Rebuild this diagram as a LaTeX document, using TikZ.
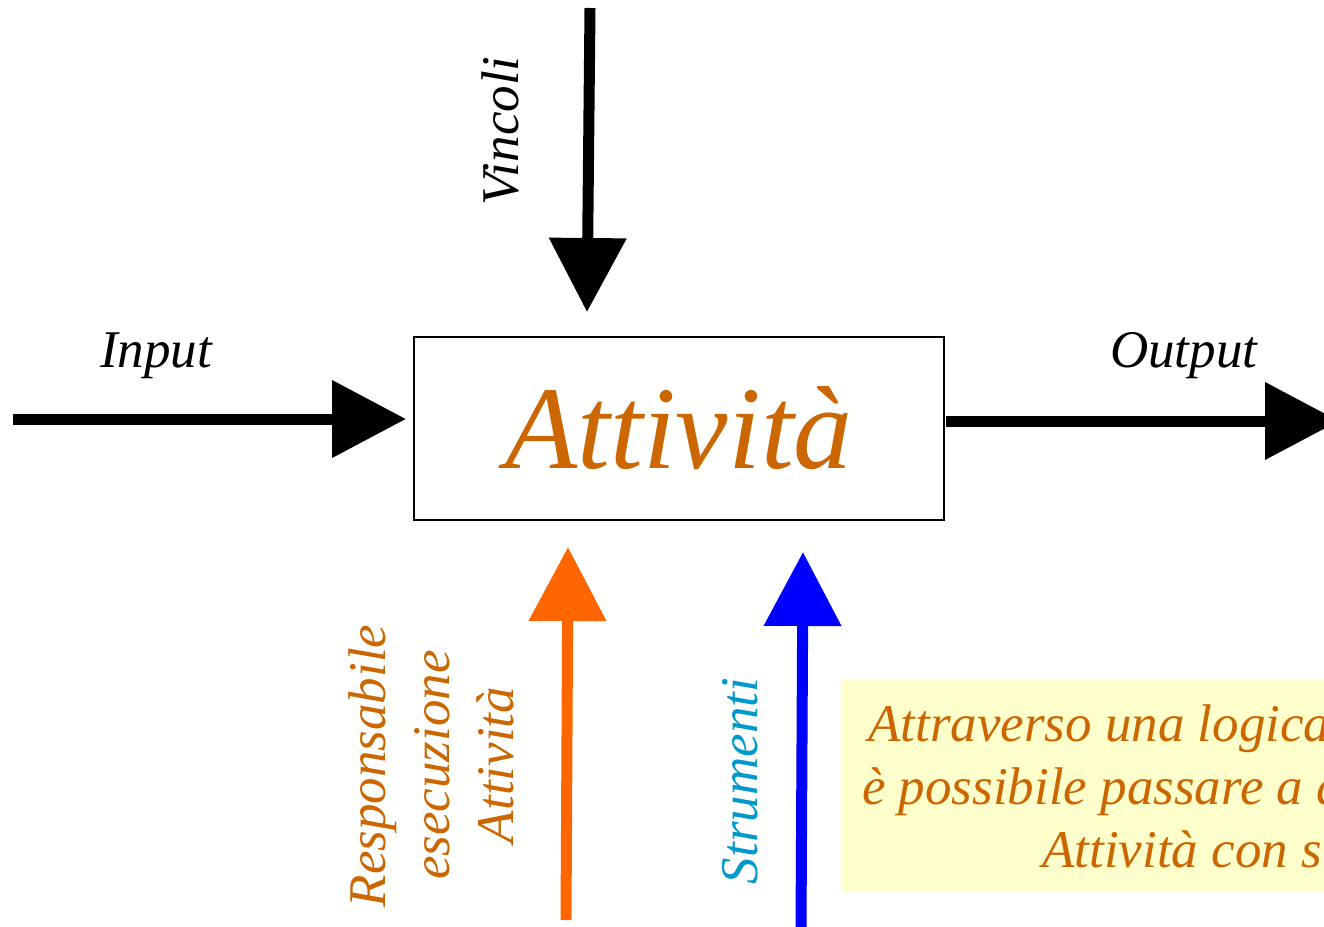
\documentclass[tikz,border=0pt]{standalone}
\usepackage{fontspec}
\setmainfont{Liberation Serif}
\usetikzlibrary{arrows.meta}
\definecolor{txtorange}{RGB}{204,102,0}
\definecolor{arrorange}{RGB}{255,102,0}
\definecolor{arrblue}{RGB}{0,0,255}
\definecolor{txtcyan}{RGB}{0,153,204}
\definecolor{notefill}{RGB}{255,255,204}
\tikzset{
  bigarrow/.style={line width=11pt, -{Triangle[length=74pt,width=75pt]}},
  lbl/.style={inner sep=0pt, font=\fontsize{53}{64}\selectfont\itshape},
  vlbl/.style={lbl, rotate=90, anchor=base},
  notetxt/.style={lbl, anchor=base west, text=txtorange},
}
\begin{document}
\begin{tikzpicture}[x=1pt,y=-1pt]
\useasboundingbox (0,0) rectangle (1324,926);
\clip (0,0) rectangle (1324,926);
% note background
\fill[notefill] (841,679) rectangle (1330,891);
% activity box
\node[draw=black, line width=1.6pt, minimum width=530pt, minimum height=183pt, inner sep=0pt,
      text=txtorange, font=\fontsize{118}{120}\selectfont\itshape] (box) at (679,428.5) {Attivit\`a};
% endpoints
\coordinate (inS) at (13,419);
\coordinate (inE) at (406,419);
\coordinate (viS) at (590,8);
\coordinate (viE) at (587,312);
\coordinate (ouS) at (946,421);
\coordinate (ouE) at (1339,421);
\coordinate (reS) at (566,920);
\coordinate (reE) at (568,547);
\coordinate (stS) at (801,930);
\coordinate (stE) at (803,552);
% arrows
\draw[bigarrow, black] (inS) -- (inE);
\draw[bigarrow, black] (viS) -- (viE);
\draw[bigarrow, black] (ouS) -- (ouE);
\draw[bigarrow, arrorange] (reS) -- (reE);
\draw[bigarrow, arrblue] (stS) -- (stE);
% labels
\node[lbl, anchor=base west] (inL) at (100,367) {Input};
\node[lbl, anchor=base west] (ouL) at (1110,367) {Output};
\node[vlbl] (viL) at (518,131) {Vincoli};
\node[vlbl, text=txtorange] (re1) at (385,766) {Responsabile};
\node[vlbl, text=txtorange] (re2) at (449,765) {esecuzione};
\node[vlbl, text=txtorange] (re3) at (513,765) {Attivit\`a};
\node[vlbl, text=txtcyan] (stL) at (757,781) {Strumenti};
% note text
\node[notetxt] (n1) at (868,741) {Attraverso una logica};
\node[notetxt] (n2) at (862,804) {\`e possibile passare a d};
\node[notetxt] (n3) at (1042,867) {Attivit\`a con s};
\end{tikzpicture}
\end{document}
